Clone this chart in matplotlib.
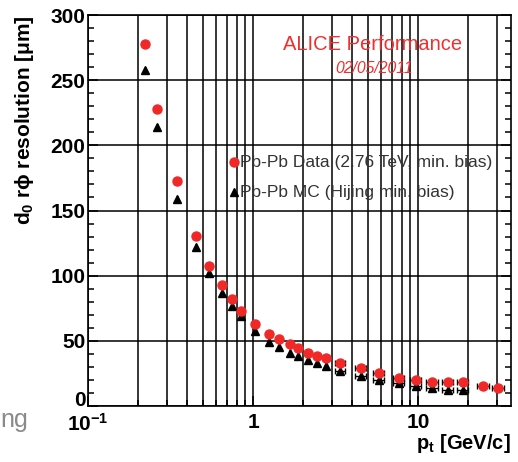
import matplotlib
matplotlib.use("Agg")
import matplotlib.pyplot as plt
from matplotlib.ticker import (FixedLocator, FixedFormatter, FuncFormatter,
                               MultipleLocator, NullFormatter)

plt.rcParams["font.family"] = ["Liberation Sans", "DejaVu Sans"]
plt.rcParams["mathtext.fontset"] = "custom"
plt.rcParams["mathtext.rm"] = "Liberation Sans:bold"
plt.rcParams["mathtext.it"] = "Liberation Sans:bold"
plt.rcParams["mathtext.bf"] = "Liberation Sans:bold"

# Pb-Pb data (2.76 TeV, min. bias)
data_pt = [0.222, 0.262, 0.346, 0.451, 0.541, 0.648, 0.746, 0.846, 1.03, 1.25,
           1.44, 1.675, 1.874, 2.154, 2.44, 2.77, 3.37, 4.51, 5.80, 7.67,
           9.73, 12.2, 15.2, 18.7, 24.8, 30.6]
data_res = [277.8, 227.9, 172.6, 130.4, 107.4, 92.8, 82.1, 72.9, 62.9, 55.2,
            51.4, 47.6, 44.5, 40.7, 38.4, 36.8, 33.0, 29.2, 25.3, 21.5,
            20.0, 18.4, 18.4, 18.4, 15.3, 13.8]
data_pt_err = [0, 0, 0, 0, 0, 0, 0, 0, 0, 0,
               0, 0, 0, 0, 0, 0, 0.25, 0.35, 0.45, 0.6,
               0.75, 0.95, 1.2, 1.5, 2.0, 2.5]

# Pb-Pb MC (Hijing min. bias)
mc_pt = data_pt[:24]
mc_res = [257.8, 214.0, 158.8, 122.0, 102.0, 86.7, 76.7, 69.0, 57.5, 49.1,
          45.3, 40.7, 38.4, 35.3, 33.0, 30.7, 26.9, 23.0, 19.9, 17.6,
          15.3, 13.8, 12.3, 12.3]
mc_pt_err = data_pt_err[:24]

fig = plt.figure(figsize=(5.18, 4.62), dpi=100)
ax = fig.add_axes([0.170, 0.1212, 0.8165, 0.8463])

ax.set_xscale("log")
ax.set_xlim(0.1, 36.6)
ax.set_ylim(0, 300)

# ROOT-like grid: every decade subdivision in x, major steps in y
ax.xaxis.set_major_locator(FixedLocator([0.1, 1, 10]))
ax.xaxis.set_major_formatter(FixedFormatter(["10$^{-1}$", "1", "10"]))
minors = [m * d for d in (0.1, 1, 10) for m in range(2, 10) if m * d < 36.6]
ax.xaxis.set_minor_locator(FixedLocator(minors))
ax.xaxis.set_minor_formatter(NullFormatter())
ax.yaxis.set_major_locator(MultipleLocator(50))
ax.yaxis.set_minor_locator(MultipleLocator(10))
# "0" is placed by hand below, a bit above the axis line like ROOT does
ax.yaxis.set_major_formatter(FuncFormatter(lambda v, p: "" if v == 0 else f"{v:.0f}"))

ax.grid(True, which="major", axis="both", color="black", lw=1.1)
ax.grid(True, which="minor", axis="x", color="black", lw=1.1)
ax.set_axisbelow(True)

ax.tick_params(which="both", direction="in", right=True, top=False,
               labelsize=15, width=1.1)
ax.tick_params(which="major", length=7, pad=2)
ax.tick_params(axis="x", which="major", pad=5)
ax.tick_params(which="minor", length=4.5)
for lab in ax.get_xticklabels() + ax.get_yticklabels():
    lab.set_fontweight("bold")
for sp in ax.spines.values():
    sp.set_linewidth(1.2)

ax.annotate("0", xy=(0, 0), xycoords="axes fraction", xytext=(-2, 4),
            textcoords="offset points", ha="right", va="center",
            fontsize=15, fontweight="bold")

ax.errorbar(mc_pt, mc_res, xerr=mc_pt_err, fmt="^", color="black",
            ms=6, ecolor="black", elinewidth=1, capsize=2, zorder=3)
ax.errorbar(data_pt, data_res, xerr=data_pt_err, fmt="o", color="#f02828",
            ms=6.5, ecolor="black", elinewidth=1, capsize=2, zorder=4)

# legend, drawn ROOT-style without frame
ax.plot([0.77], [187], "o", color="#f02828", ms=6.5, zorder=4)
ax.plot([0.77], [164], "^", color="black", ms=6, zorder=4)
ax.text(0.835, 187, "Pb-Pb Data (2.76 TeV, min. bias)", fontsize=12.5,
        color="#333333", va="center", ha="left", zorder=1)
ax.text(0.835, 164, "Pb-Pb MC (Hijing min. bias)", fontsize=12.5,
        color="#333333", va="center", ha="left", zorder=1)

ax.text(0.673, 0.924, "ALICE Performance", transform=ax.transAxes,
        fontsize=14.5, color="#f03030", ha="center", va="center")
ax.text(0.677, 0.862, "02/05/2011", transform=ax.transAxes, fontsize=11.3,
        color="#f03030", style="italic", ha="center", va="center")

fig.text(25 / 518, 1 - 15 / 462, r"d$_0$ r$\phi$ resolution [$\mu$m]",
         rotation=90, ha="center", va="top", fontsize=15, fontweight="bold")
fig.text(511 / 518, 1 - 449 / 462, r"p$_t$ [GeV/c]", ha="right",
         va="baseline", fontsize=14.5, fontweight="bold")

fig.text(0.0, 1 - 427 / 462, "ng", fontsize=18, color="#8a8a8a",
         ha="left", va="baseline")

fig.savefig("out.png", dpi=100)
